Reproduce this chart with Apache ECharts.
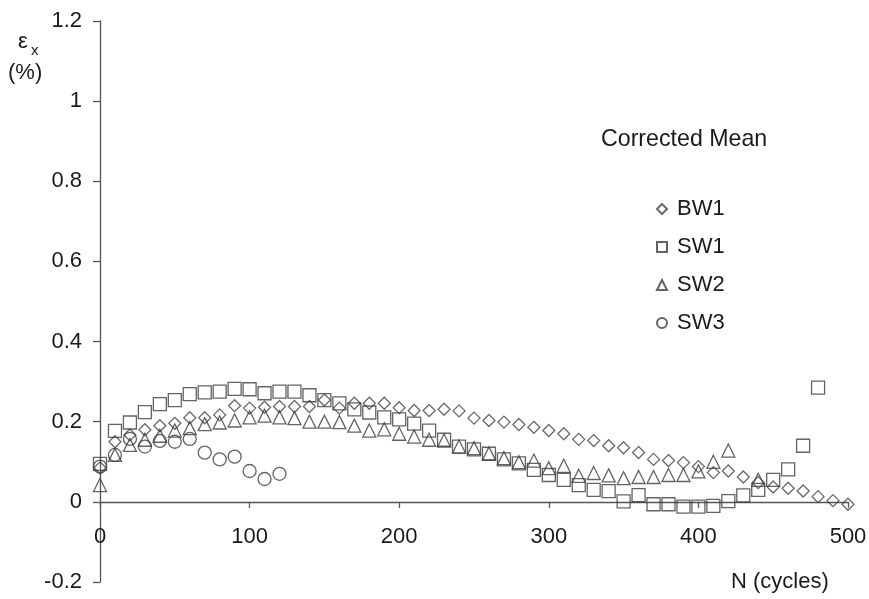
<!DOCTYPE html>
<html>
<head>
<meta charset="utf-8">
<script src="https://cdn.jsdelivr.net/npm/echarts@6/dist/echarts.min.js"></script>
<style>html,body{margin:0;padding:0;background:#fff}#c{width:869px;height:599px}</style>
</head>
<body>
<div id="c"></div>
<script>
var cyclesBW1 = [0,10,20,30,40,50,60,70,80,90,100,110,120,130,140,150,160,170,180,190,200,210,220,230,240,250,260,270,280,290,300,310,320,330,340,350,360,370,380,390,400,410,420,430,440,450,460,470,480,490,500];
var valuesBW1 = [0.085,0.15,0.167,0.18,0.19,0.196,0.21,0.21,0.217,0.24,0.234,0.236,0.238,0.238,0.238,0.254,0.234,0.246,0.246,0.246,0.235,0.228,0.228,0.231,0.227,0.209,0.203,0.199,0.193,0.186,0.178,0.17,0.156,0.153,0.14,0.135,0.123,0.106,0.103,0.098,0.088,0.073,0.077,0.062,0.048,0.037,0.034,0.027,0.013,0.003,-0.006];
var cyclesSW1 = [0,10,20,30,40,50,60,70,80,90,100,110,120,130,140,150,160,170,180,190,200,210,220,230,240,250,260,270,280,290,300,310,320,330,340,350,360,370,380,390,400,410,420,430,440,450,460,470,480];
var valuesSW1 = [0.095,0.177,0.198,0.224,0.244,0.254,0.269,0.273,0.275,0.282,0.281,0.271,0.275,0.275,0.266,0.254,0.246,0.231,0.223,0.211,0.206,0.195,0.178,0.155,0.138,0.131,0.12,0.106,0.096,0.08,0.067,0.055,0.042,0.03,0.027,0.001,0.017,-0.006,-0.006,-0.012,-0.012,-0.01,0.002,0.016,0.03,0.055,0.081,0.14,0.285];
var cyclesSW2 = [0,10,20,30,40,50,60,70,80,90,100,110,120,130,140,150,160,170,180,190,200,210,220,230,240,250,260,270,280,290,300,310,320,330,340,350,360,370,380,390,400,410,420,440];
var valuesSW2 = [0.042,0.117,0.142,0.155,0.165,0.178,0.184,0.194,0.198,0.203,0.211,0.215,0.211,0.209,0.2,0.2,0.199,0.19,0.178,0.181,0.17,0.163,0.155,0.153,0.138,0.134,0.121,0.109,0.099,0.103,0.084,0.09,0.065,0.072,0.066,0.059,0.062,0.062,0.067,0.067,0.076,0.1,0.128,0.055];
var cyclesSW3 = [0,10,20,30,40,50,60,70,80,90,100,110,120];
var valuesSW3 = [0.088,0.117,0.157,0.138,0.152,0.15,0.157,0.123,0.106,0.113,0.077,0.057,0.07];
var xTicks = [0,100,200,300,400,500];
var yTicks = [-0.2,0,0.2,0.4,0.6,0.8,1,1.2];

function pairs(xs, ys){ return xs.map(function(x,i){ return [x, ys[i]]; }); }

var FONT = '"Liberation Sans", Arial, sans-serif';
var TXT = '#1a1a1a';
var AX = '#555';
var chart = echarts.init(document.getElementById('c'), null, {renderer:'canvas'});

function ser(name, sym, size, xs, ys, col){
  return {
    name: name, type: 'scatter', symbol: sym, symbolSize: size,
    data: pairs(xs, ys), xAxisIndex: 0,
    itemStyle: {color: 'rgba(255,255,255,0)', borderColor: col, borderWidth: 1.3},
    emphasis: {disabled: true}
  };
}

var xFmt = function(v){ return xTicks.indexOf(v) >= 0 ? String(v) : ''; };

chart.setOption({
  animation: false,
  backgroundColor: '#fff',
  grid: {left: 100, right: 21, top: 21, bottom: 17, containLabel: false, outerBoundsMode: 'none'},
  xAxis: [{
    type: 'value', min: 0, max: 500, interval: 100,
    axisLine: {onZero: true, lineStyle: {color: AX, width: 1.3}},
    axisTick: {show: true, inside: false, length: 6, lineStyle: {color: AX, width: 1.3}},
    axisLabel: {show: false},
    splitLine: {show: false}
  }, {
    type: 'value', min: 0, max: 500, interval: 100, position: 'bottom', offset: -80,
    axisLine: {show: false, onZero: false},
    axisTick: {show: false},
    axisLabel: {margin: 24, fontFamily: FONT, fontSize: 22, color: TXT, formatter: xFmt},
    splitLine: {show: false}
  }],
  yAxis: {
    type: 'value', min: -0.2, max: 1.2, interval: 0.2,
    axisLine: {show: true, onZero: false, lineStyle: {color: AX, width: 1.3}},
    axisTick: {show: true, inside: false, length: 7, lineStyle: {color: AX, width: 1.3}},
    axisLabel: {margin: 18, fontFamily: FONT, fontSize: 22, color: TXT,
      formatter: function(v){ var r = Math.round(v*10)/10; return yTicks.indexOf(r) >= 0 ? String(r) : ''; }},
    splitLine: {show: false}
  },
  legend: {
    orient: 'vertical', left: 651, top: 193, itemGap: 16,
    itemWidth: 10, itemHeight: 10,
    textStyle: {fontFamily: FONT, fontSize: 22, color: TXT, padding: [0,0,0,5]},
    data: ['BW1','SW1','SW2','SW3']
  },
  graphic: [
    {type: 'text', left: 601, top: 128, style: {text: 'Corrected Mean', font: '23.2px ' + FONT, fill: TXT}},
    {type: 'text', left: 731, top: 571, style: {text: 'N (cycles)', font: '22px ' + FONT, fill: TXT}},
    {type: 'text', left: 18, top: 31, style: {text: 'ε', font: '22px ' + FONT, fill: TXT}},
    {type: 'text', left: 31, top: 43, style: {text: 'x', font: '15px ' + FONT, fill: TXT}},
    {type: 'text', left: 8, top: 62, style: {text: '(%)', font: '22px ' + FONT, fill: TXT}}
  ],
  series: [
    ser('BW1', 'diamond', [12,12], cyclesBW1, valuesBW1, '#444'),
    ser('SW1', 'rect', [13,13], cyclesSW1, valuesSW1, '#3c3c3c'),
    ser('SW2', 'triangle', [13,13], cyclesSW2, valuesSW2, '#3c3c3c'),
    ser('SW3', 'circle', [13,13], cyclesSW3, valuesSW3, '#3c3c3c')
  ]
});
</script>
</body>
</html>
